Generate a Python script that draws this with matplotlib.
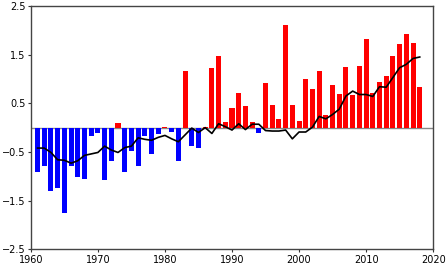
import numpy as np
import matplotlib.pyplot as plt

years = np.arange(1961, 2019)
anomaly = [-0.92, -0.78, -1.30, -1.23, -1.75, -0.78, -1.02, -1.05, -0.18, -0.12,
           -1.08, -0.68, 0.09, -0.91, -0.48, -0.79, -0.18, -0.54, -0.13, 0.01,
           -0.09, -0.68, 1.16, -0.37, -0.42, 0.02, 1.22, 1.48, 0.12, 0.41,
           0.72, 0.44, 0.12, -0.11, 0.92, 0.46, 0.18, 2.11, 0.46, 0.14,
           1.00, 0.80, 1.17, 0.25, 0.87, 0.70, 1.24, 0.66, 1.27, 1.83,
           0.71, 0.93, 1.05, 1.48, 1.71, 1.93, 1.74, 0.83]
smooth = [-0.42, -0.42, -0.51, -0.66, -0.67, -0.73, -0.68, -0.57, -0.54, -0.51,
          -0.38, -0.46, -0.51, -0.41, -0.38, -0.21, -0.24, -0.26, -0.20, -0.16,
          -0.23, -0.29, -0.15, -0.01, -0.10, 0.00, -0.12, 0.08, 0.02, -0.05,
          0.08, -0.04, 0.07, 0.07, -0.06, -0.07, -0.07, -0.05, -0.23, -0.09,
          -0.09, 0.01, 0.23, 0.18, 0.27, 0.38, 0.65, 0.75, 0.68, 0.68,
          0.64, 0.84, 0.83, 1.03, 1.23, 1.30, 1.42, 1.45]
yticks = [-2.5, -1.5, -0.5, 0.5, 1.5, 2.5]
xticks = [1960, 1970, 1980, 1990, 2000, 2010, 2020]

anomaly = np.array(anomaly)
colors = np.where(anomaly >= 0, '#ff0000', '#0000ff')

fig = plt.figure(figsize=(4.47, 2.67), dpi=100)
ax = fig.add_axes([0.069, 0.066, 0.9, 0.912])

ax.bar(years, anomaly, width=0.75, color=colors, edgecolor='none', zorder=2)
ax.axhline(0, color='#888888', lw=1, zorder=1)
ax.plot(years, smooth, color='black', lw=1.2, zorder=3)

ax.set_xlim(1960, 2020)
ax.set_ylim(-2.5, 2.5)
ax.set_xticks(xticks)
ax.set_yticks(yticks)
ax.tick_params(labelsize=7, length=2.5, width=0.8, color='#333333', pad=1.5)
for s in ax.spines.values():
    s.set_color('#444444')
    s.set_linewidth(1)

fig.savefig('out.png', dpi=100)
